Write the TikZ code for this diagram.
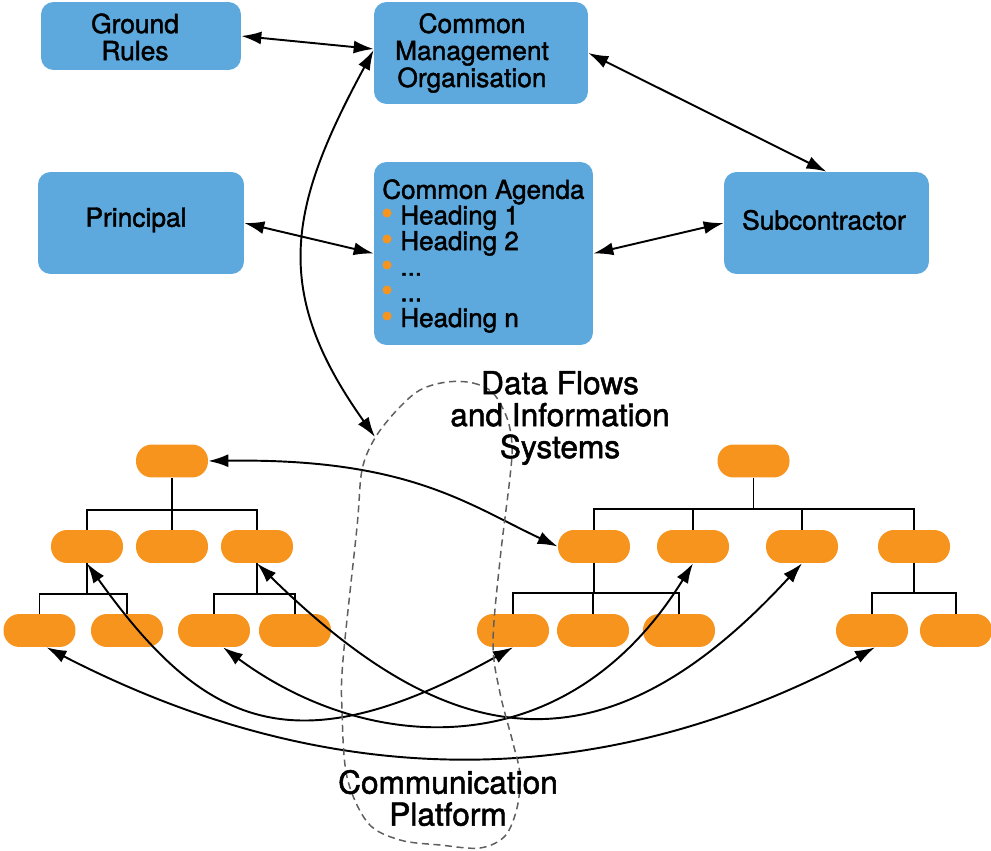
\documentclass[tikz,border=0pt]{standalone}
\usepackage{fontspec}
\setmainfont{TeX Gyre Heros}[FakeBold=1.6]
\usetikzlibrary{arrows.meta,calc}
\definecolor{bblue}{RGB}{93,169,221}
\definecolor{orng}{RGB}{247,148,30}
\definecolor{dgray}{RGB}{95,95,95}
\begin{document}
\begin{tikzpicture}[x=0.02cm,y=-0.02cm,
  bbox/.style={draw=none, fill=bblue, rounded corners=0.25cm, inner sep=0},
  pill/.style={fill=orng, rounded corners=0.32cm, minimum width=1.44cm, minimum height=0.66cm, inner sep=0},
  btext/.style={align=center, font=\fontsize{15}{15.4}\selectfont, inner sep=0},
  lab/.style={align=center, font=\fontsize{18}{18.2}\selectfont, inner sep=0},
  conn/.style={line width=1.1pt},
  arr/.style={line width=1.1pt, {Latex[length=0.4cm,width=0.26cm]}-{Latex[length=0.4cm,width=0.26cm]}},
  plat/.style={dgray, line width=0.85pt, dash pattern=on 4pt off 2.6pt}
]
\useasboundingbox (0,0) rectangle (991,851);

% blue boxes
\node[bbox, minimum width=4cm, minimum height=1.36cm] (gr) at (141,36) {};
\node[bbox, minimum width=4.28cm, minimum height=2.04cm] (cmo) at (481,53) {};
\node[bbox, minimum width=4.12cm, minimum height=2.04cm] (pr) at (141,223) {};
\node[bbox, minimum width=4.38cm, minimum height=3.66cm] (ag) at (483.5,253.5) {};
\node[bbox, minimum width=4.1cm, minimum height=2.04cm] (sub) at (826.5,223) {};

\node[btext] (grt) at (135,37) {Ground\\Rules};
\node[btext] (cmot) at (472,53) {Common\\Management\\Organisation};
\node[btext] (prt) at (136,220) {Principal};
\node[btext] (subt) at (824,220) {Subcontractor};
\node[btext, align=left, anchor=north west, font=\fontsize{14.8}{14.6}\selectfont] (agt) at (382,179)
  {Common Agenda\\\hspace*{0.36cm}Heading 1\\\hspace*{0.36cm}Heading 2\\\hspace*{0.36cm}...\\\hspace*{0.36cm}...\\\hspace*{0.36cm}Heading n};
\foreach \yy in {213,239,265,290,316} \fill[orng] (387,\yy) circle (0.09cm);

% pills
\node[pill] (lr) at (172,461) {};
\node[pill] (la1) at (87,546.5) {};
\node[pill] (la2) at (172,546.5) {};
\node[pill] (la3) at (257,546.5) {};
\node[pill] (lb1) at (39.5,630.5) {};
\node[pill] (lb2) at (127,630.5) {};
\node[pill] (lb3) at (214,630.5) {};
\node[pill] (lb4) at (295,630.5) {};
\node[pill] (rr) at (753.5,461) {};
\node[pill] (rc1) at (594,546.5) {};
\node[pill] (rc2) at (693,546.5) {};
\node[pill] (rc3) at (802,546.5) {};
\node[pill] (rc4) at (914,546.5) {};
\node[pill] (rd1) at (513,630.5) {};
\node[pill] (rd2) at (593,630.5) {};
\node[pill] (rd3) at (679,630.5) {};
\node[pill] (rd4) at (872,630.5) {};
\node[pill] (rd5) at (956,630.5) {};

% tree connectors
\foreach \c in {la1,la2,la3} \draw[conn] (lr.south) -- ++(0,32) -| (\c.north);
\foreach \c in {lb1,lb2} \draw[conn] (la1.south) -- ++(0,31) -| (\c.north);
\foreach \c in {lb3,lb4} \draw[conn] (la3.south) -- ++(0,31) -| (\c.north);
\foreach \c in {rc1,rc2,rc3,rc4} \draw[conn] (rr.south) -- ++(0,31) -| (\c.north);
\foreach \c in {rd1,rd2,rd3} \draw[conn] (rc1.south) -- ++(0,30) -| (\c.north);
\foreach \c in {rd4,rd5} \draw[conn] (rc4.south) -- ++(0,30) -| (\c.north);

% straight arrows
\draw[arr] (gr.east) -- ($(cmo.west)+(0,-4)$);
\draw[arr] (cmo.east) -- (sub.north);
\draw[arr] (pr.east) -- (ag.west);
\draw[arr] (ag.east) -- (sub.west);

% curved arrows
\coordinate (cpt) at (375,437);
\draw[arr] ($(cmo.west)+(0,-3)$) .. controls (288,208) and (271,291) .. (cpt);
\draw[arr] (lr.east) .. controls (408,458) and (467,504) .. (rc1.west);
\draw[arr] (la1.south) .. controls (204,727) and (294,769) .. (rd1.south);
\draw[arr] (la3.south) .. controls (444,747) and (599,785) .. (rc3.south);
\draw[arr] ($(lb3.south)+(9,0)$) .. controls (367,754) and (566,769) .. (rc2.south);
\draw[arr] ($(lb1.south)+(7,0)$) .. controls (350,804) and (620,784) .. ($(rd4.south)+(3,0)$);

% communication platform outline
\draw[plat] plot[smooth cycle, tension=0.55] coordinates {
 (447,382) (473,383) (493,393) (507,418) (512,445) (510,477) (500,560) (493,643)
 (500,693) (513,743) (520,775) (517,808) (505,836) (480,848) (440,845) (400,840)
 (368,823) (347,777) (342,710) (343,660) (357,527) (362,470) (375,438) (397,410) (420,390)};

% labels
\node[lab] (dfl) at (560,418) {Data Flows\\and Information\\Systems};
\node[lab] (cpl) at (448,798) {Communication\\Platform};
\end{tikzpicture}
\end{document}
